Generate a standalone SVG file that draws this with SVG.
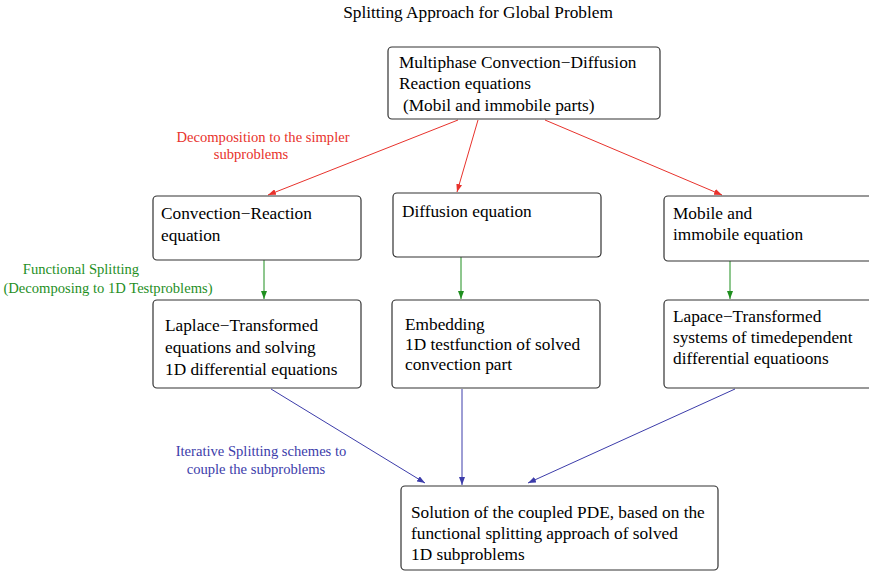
<svg xmlns="http://www.w3.org/2000/svg" width="869" height="571" viewBox="0 0 869 571">
<defs>
<style>
text{font-family:"Liberation Serif","Times New Roman",serif;}
.box{fill:#fff;stroke:#333;stroke-width:1.2;}
.t{font-size:17.3px;fill:#000;}
.lbl{font-size:14.6px;}
.red{stroke:#e8322c;stroke-width:1;fill:none;}
.green{stroke:#1f8f1f;stroke-width:1;fill:none;}
.blue{stroke:#3c3caa;stroke-width:1;fill:none;}
</style>
<marker id="ar" viewBox="0 0 8 6" refX="8" refY="3" markerWidth="8" markerHeight="6" markerUnits="userSpaceOnUse" orient="auto"><path d="M0,0 L8,3 L0,6 z" fill="#e8322c"/></marker>
<marker id="ag" viewBox="0 0 8 6" refX="8" refY="3" markerWidth="8" markerHeight="6" markerUnits="userSpaceOnUse" orient="auto"><path d="M0,0 L8,3 L0,6 z" fill="#1f8f1f"/></marker>
<marker id="ab" viewBox="0 0 8 6" refX="8" refY="3" markerWidth="8" markerHeight="6" markerUnits="userSpaceOnUse" orient="auto"><path d="M0,0 L8,3 L0,6 z" fill="#3c3caa"/></marker>
</defs>
<rect width="869" height="571" fill="#fff"/>
<text x="478" y="18" text-anchor="middle" style="font-size:17.3px">Splitting Approach for Global Problem</text>

<g id="connectors">
<line class="red" x1="458" y1="120" x2="268" y2="195" marker-end="url(#ar)"/>
<line class="red" x1="478" y1="120" x2="457" y2="192" marker-end="url(#ar)"/>
<line class="red" x1="545" y1="120" x2="722" y2="195" marker-end="url(#ar)"/>
<line class="green" x1="264" y1="260" x2="264" y2="299" marker-end="url(#ag)"/>
<line class="green" x1="461" y1="257" x2="461" y2="299" marker-end="url(#ag)"/>
<line class="green" x1="730" y1="261" x2="730" y2="299" marker-end="url(#ag)"/>
<line class="blue" x1="271" y1="389" x2="425" y2="483" marker-end="url(#ab)"/>
<line class="blue" x1="462" y1="389" x2="462" y2="485" marker-end="url(#ab)"/>
<line class="blue" x1="735" y1="389" x2="528" y2="483" marker-end="url(#ab)"/>
<text class="lbl" fill="#e8322c" x="263" y="142" text-anchor="middle">Decomposition to the simpler</text>
<text class="lbl" fill="#e8322c" x="251" y="159" text-anchor="middle">subproblems</text>
<text class="lbl" fill="#1f8f1f" x="81" y="274" text-anchor="middle">Functional Splitting</text>
<text class="lbl" fill="#1f8f1f" x="108" y="293" text-anchor="middle">(Decomposing to 1D Testproblems)</text>
<text class="lbl" fill="#3c3caa" x="261" y="456" text-anchor="middle">Iterative Splitting schemes to</text>
<text class="lbl" fill="#3c3caa" x="256" y="474" text-anchor="middle">couple the subproblems</text>
</g>

<g id="n-top">
<rect class="box" x="388" y="47" width="272" height="72" rx="4"/>
<text class="t" x="399" y="68">Multiphase Convection−Diffusion</text>
<text class="t" x="399" y="89">Reaction equations</text>
<text class="t" x="403" y="111">(Mobil and immobile parts)</text>
</g>

<g id="n-convection">
<rect class="box" x="153" y="196" width="208" height="64" rx="4"/>
<text class="t" x="161" y="219">Convection−Reaction</text>
<text class="t" x="161" y="241">equation</text>
</g>

<g id="n-diffusion">
<rect class="box" x="393" y="193" width="208" height="64" rx="4"/>
<text class="t" x="402" y="217">Diffusion equation</text>
</g>

<g id="n-mobile">
<rect class="box" x="664" y="196" width="210" height="65" rx="4"/>
<text class="t" x="673" y="219">Mobile and</text>
<text class="t" x="673" y="240">immobile equation</text>
</g>

<g id="n-laplace">
<rect class="box" x="153" y="300" width="208" height="88" rx="4"/>
<text class="t" x="165" y="331">Laplace−Transformed</text>
<text class="t" x="165" y="353">equations and solving</text>
<text class="t" x="165" y="375">1D differential equations</text>
</g>

<g id="n-embedding">
<rect class="box" x="392" y="300" width="208" height="88" rx="4"/>
<text class="t" x="405" y="330">Embedding</text>
<text class="t" x="405" y="350">1D testfunction of solved</text>
<text class="t" x="405" y="370">convection part</text>
</g>

<g id="n-lapace">
<rect class="box" x="664" y="300" width="210" height="88" rx="4"/>
<text class="t" x="673" y="322">Lapace−Transformed</text>
<text class="t" x="673" y="343">systems of timedependent</text>
<text class="t" x="673" y="364">differential equatioons</text>
</g>

<g id="n-solution">
<rect class="box" x="401" y="486" width="317" height="84" rx="4"/>
<text class="t" x="411" y="518">Solution of the coupled PDE, based on the</text>
<text class="t" x="411" y="539">functional splitting approach of solved</text>
<text class="t" x="411" y="560">1D subproblems</text>
</g>
</svg>
